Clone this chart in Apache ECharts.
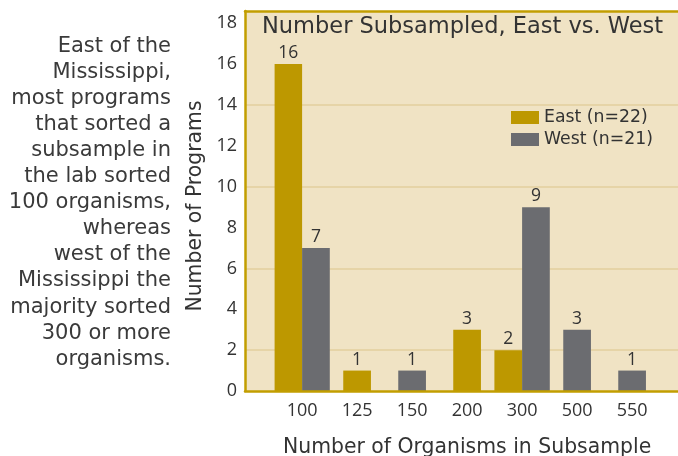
<!DOCTYPE html>
<html>
<head>
<meta charset="utf-8">
<script src="https://cdn.jsdelivr.net/npm/echarts@6/dist/echarts.min.js"></script>
<style>
html,body{margin:0;padding:0;background:#fff;}
#chart{width:678px;height:456px;}
.pre{position:absolute;left:-9999px;top:0;}
</style>
</head>
<body>
<div class="pre" style="font-family:'Open Sans'">0123456789</div>
<div class="pre" style="font-family:'DejaVu Sans'">Number</div>
<div id="chart"></div>
<script>
const categories = ['100', '125', '150', '200', '300', '500', '550'];
const eastValues = [16, 1, null, 3, 2, null, null];
const westValues = [7, null, 1, null, 9, 3, 1];
const yTicks = [0, 2, 4, 6, 8, 10, 12, 14, 16, 18];
const gridLineValues = [2, 6, 10, 14];
const eastName = 'East (n=22)';
const westName = 'West (n=21)';
const titleText = 'Number Subsampled, East vs. West';
const xAxisTitle = 'Number of Organisms in Subsample';
const yAxisTitle = 'Number of Programs';
const noteLines = ['East of the', 'Mississippi,', 'most programs', 'that sorted a', 'subsample in', 'the lab sorted', '100 organisms,', 'whereas', 'west of the', 'Mississippi the', 'majority sorted', '300 or more', 'organisms.'];

const FONT = '"Open Sans"';
const WFONT = '"DejaVu Sans"';
const TXT = '#333333';
const EAST = '#BD9800';
const WEST = '#6B6C70';
const BG = '#F0E3C4';
const GOLD = '#C29E00';
const GRIDC = '#E3CF9E';
const Y_MAX = 18.6;
const BAR_W = 27.7;

const paired = categories.map((c, i) => eastValues[i] != null && westValues[i] != null);
const eastPair = eastValues.map((v, i) => paired[i] ? v : null);
const westPair = westValues.map((v, i) => paired[i] ? v : null);
const eastSingle = eastValues.map((v, i) => paired[i] ? null : v);
const westSingle = westValues.map((v, i) => paired[i] ? null : v);

function render() {
  const labelCfg = { show: true, position: 'top', distance: 2, color: TXT, fontSize: 17.5, fontFamily: FONT };
  const barItem = (c) => ({ color: c, borderRadius: 0 });
  const chart = echarts.init(document.getElementById('chart'), null, { renderer: 'canvas' });
  chart.setOption({
    animation: false,
    title: {
      text: titleText, left: 262, top: 16, padding: 0,
      textStyle: { fontFamily: WFONT, fontSize: 22.5, fontWeight: 'normal', color: TXT }
    },
    legend: {
      orient: 'vertical', left: 511, top: 109, padding: 0,
      itemWidth: 28, itemHeight: 13, itemGap: 5, icon: 'rect',
      data: [eastName, westName],
      textStyle: { fontFamily: WFONT, fontSize: 17.3, color: TXT },
      selectedMode: false
    },
    graphic: [{
      type: 'text', right: 678 - 171, top: 33,
      style: {
        text: noteLines.join('\n'), textAlign: 'right', fill: '#3A3A3A',
        font: '21px "DejaVu Sans"', lineHeight: 26.1
      }
    }],
    grid: [
      { left: 245, top: 11, width: 460, height: 380, show: true, backgroundColor: BG, borderWidth: 0, outerBoundsMode: 'none', containLabel: false },
      { left: 274.6, top: 11, width: 385, height: 380, outerBoundsMode: 'none', containLabel: false }
    ],
    xAxis: [
      { type: 'category', gridIndex: 0, data: categories, z: 10,
        axisLine: { show: true, lineStyle: { color: GOLD, width: 2.5 } },
        axisTick: { show: false }, axisLabel: { show: false }, splitLine: { show: false } },
      { type: 'category', gridIndex: 1, data: categories, position: 'bottom',
        axisLine: { show: false }, axisTick: { show: false },
        axisLabel: { fontFamily: FONT, fontSize: 18, color: TXT, margin: 11 },
        name: xAxisTitle, nameLocation: 'middle', nameGap: 57,
        nameTextStyle: { fontFamily: WFONT, fontSize: 20.4, color: TXT, verticalAlign: 'middle' } },
      { type: 'category', gridIndex: 1, data: categories, show: false },
      { type: 'category', gridIndex: 0, data: categories, position: 'top', z: 10,
        axisLine: { show: true, lineStyle: { color: GOLD, width: 2.5 } },
        axisTick: { show: false }, axisLabel: { show: false } }
    ],
    yAxis: [
      { type: 'value', gridIndex: 0, min: 0, max: Y_MAX, interval: 2, z: 10,
        axisLine: { show: true, lineStyle: { color: GOLD, width: 2.5 } },
        axisTick: { show: false }, splitLine: { show: false },
        axisLabel: { fontFamily: FONT, fontSize: 18, color: TXT, margin: 8,
          customValues: yTicks },
        name: yAxisTitle, nameLocation: 'middle', nameGap: 38, nameRotate: 90,
        nameTextStyle: { fontFamily: WFONT, fontSize: 20.4, color: TXT, verticalAlign: 'middle', padding: [0, 10, 0, 0] } },
      { type: 'value', gridIndex: 1, min: 0, max: Y_MAX, interval: 2, show: false, splitLine: { show: false } }
    ],
    series: [
      { type: 'line', xAxisIndex: 0, yAxisIndex: 0, data: [], silent: true,
        markLine: { silent: true, z: 1, symbol: 'none', label: { show: false },
          lineStyle: { color: GRIDC, width: 1.5, type: 'solid' },
          data: gridLineValues.map(v => ({ yAxis: v })) } },
      { name: eastName, type: 'bar', xAxisIndex: 1, yAxisIndex: 1, data: eastPair,
        barWidth: BAR_W, barGap: 0, itemStyle: barItem(EAST), label: labelCfg },
      { name: westName, type: 'bar', xAxisIndex: 1, yAxisIndex: 1, data: westPair,
        barWidth: BAR_W, barGap: 0, itemStyle: barItem(WEST), label: labelCfg },
      { name: eastName, type: 'bar', xAxisIndex: 2, yAxisIndex: 1, data: eastSingle,
        barWidth: BAR_W, barGap: '-100%', itemStyle: barItem(EAST), label: labelCfg },
      { name: westName, type: 'bar', xAxisIndex: 2, yAxisIndex: 1, data: westSingle,
        barWidth: BAR_W, barGap: '-100%', itemStyle: barItem(WEST), label: labelCfg }
    ]
  });
}

const fontLoads = (document.fonts && document.fonts.load)
  ? Promise.all([
      document.fonts.load('17px "Open Sans"', '0123456789'),
      document.fonts.load('20px "DejaVu Sans"', 'Number')
    ]).catch(() => null)
  : Promise.resolve();
fontLoads.then(render, render);
</script>
</body>
</html>
